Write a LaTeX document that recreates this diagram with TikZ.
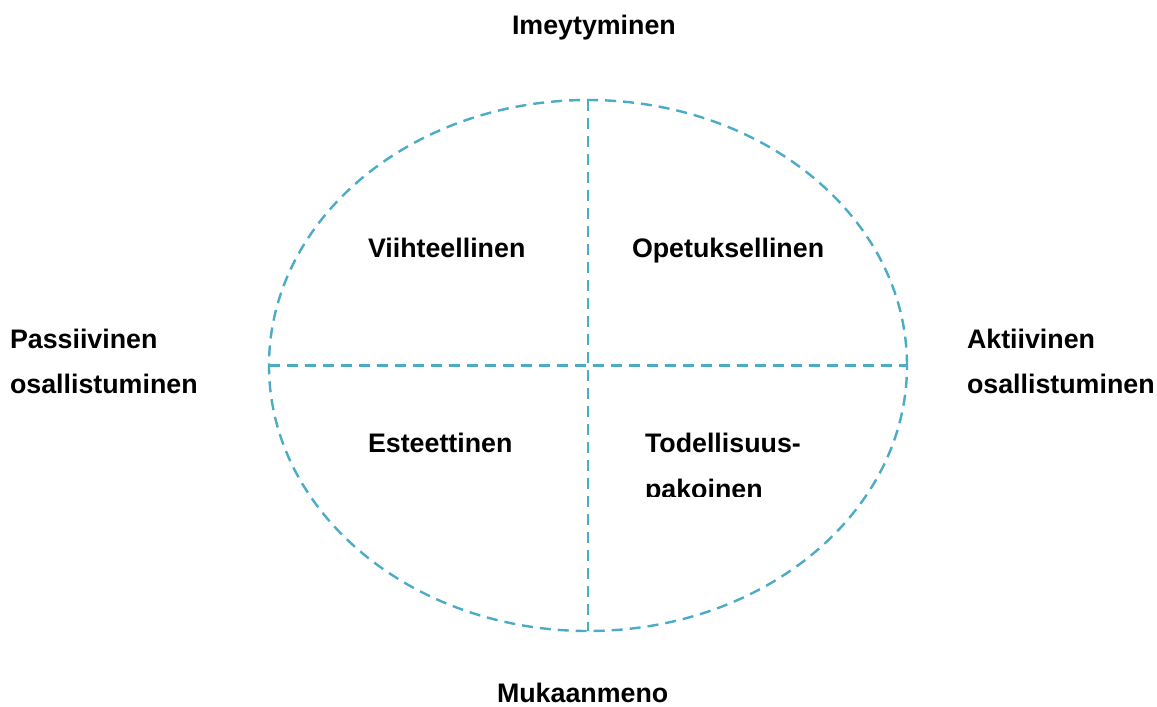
\documentclass[tikz,border=0pt]{standalone}
\usepackage{fontspec}
\setmainfont{Liberation Sans}
\usetikzlibrary{shapes.geometric}
\definecolor{dashblue}{HTML}{4BACC6}
\tikzset{
  lbl/.style={anchor=base west, inner sep=0pt, outer sep=0pt, font=\fontsize{26.8}{45}\selectfont\bfseries},
  divider/.style={draw=dashblue, line width=2.4pt, dash pattern=on 11pt off 7pt},
}
\begin{document}
\begin{tikzpicture}[x=1pt,y=-1pt]
\useasboundingbox[fill=white] (0,0) rectangle (1157,707);
\node[ellipse, divider, minimum width=638pt, minimum height=531pt, inner sep=0pt, outer sep=0pt] (E) at (588,365.5) {};
\draw[divider] (E.north) -- (E.south);
\draw[divider] (E.west) -- (E.east);
\node[lbl] (top) at (512,34) {Imeytyminen};
\node[lbl] (bot) at (497,702) {Mukaanmeno};
\node[lbl] (p1) at (10,348) {Passiivinen};
\node[lbl] (p2) at (10,393) {osallistuminen};
\node[lbl] (a1) at (967,348) {Aktiivinen};
\node[lbl] (a2) at (967,393) {osallistuminen};
\node[lbl] (q1) at (368,257) {Viihteellinen};
\node[lbl] (q2) at (632,257) {Opetuksellinen};
\node[lbl] (q3) at (368,452) {Esteettinen};
\node[lbl] (q4) at (645,452) {Todellisuus-};
\begin{scope}
\clip (600,460) rectangle (850,496);
\node[lbl] (q4b) at (645,498) {pakoinen};
\end{scope}
\end{tikzpicture}
\end{document}
